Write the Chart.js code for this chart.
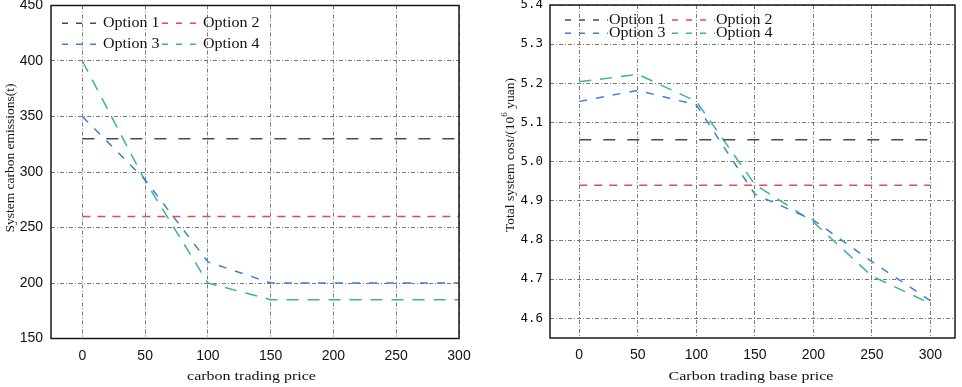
<!DOCTYPE html>
<html><head><meta charset="utf-8">
<script src="https://cdn.jsdelivr.net/npm/chart.js@4.4.1/dist/chart.umd.min.js"></script>
<style>
html,body{margin:0;padding:0;background:#fff;width:962px;height:387px;overflow:hidden}
canvas{position:absolute;top:0}
#c1{left:0}
#c2{left:480px}
</style></head><body>
<canvas id="c1" width="480" height="387"></canvas>
<canvas id="c2" width="482" height="387"></canvas>
<script>
// ---------- data ----------
const seriesNames = ['Option 1', 'Option 2', 'Option 3', 'Option 4'];
const xPrices = [0, 50, 100, 150, 200, 250, 300];
const priceTicksX = [0, 50, 100, 150, 200, 250, 300];

const emissionOpt1 = [330, 330, 330, 330, 330, 330, 330];
const emissionOpt2 = [260, 260, 260, 260, 260, 260, 260];
const emissionOpt3 = [350, 293, 219, 200, 200, 200, 200];
const emissionOpt4 = [400, 292, 200, 185, 185, 185, 185];
const emissionTicksY = [150, 200, 250, 300, 350, 400, 450];

const costOpt1 = [5.056, 5.056, 5.056, 5.056, 5.056, 5.056, 5.056];
const costOpt2 = [4.94, 4.94, 4.94, 4.94, 4.94, 4.94, 4.94];
const costOpt3 = [5.154, 5.182, 5.145, 4.917, 4.851, 4.745, 4.645];
const costOpt4 = [5.204, 5.223, 5.154, 4.942, 4.846, 4.708, 4.638];
const costTicksY = [4.6, 4.7, 4.8, 4.9, 5.0, 5.1, 5.2, 5.3, 5.4];

// ---------- styles ----------
const seriesColors = ['#4a4a4a', '#e8455e', '#3f7fd6', '#3db58e'];
const seriesDashes = [[12, 12], [8, 7], [8, 9], [12, 9]];
const SANS = "'Liberation Sans', Arial, sans-serif";
const SERIF = "'Liberation Serif', 'Times New Roman', serif";
const MONO = "'DejaVu Sans Mono', monospace";

function drawSquashed(ctx, text, x, y, font, sy, align) {
  ctx.save();
  ctx.font = font;
  ctx.textAlign = align || 'left';
  ctx.textBaseline = 'middle';
  ctx.fillStyle = '#111';
  ctx.translate(x, y);
  ctx.scale(1, sy);
  ctx.fillText(text, 0, 0);
  ctx.restore();
}

const decorPlugin = {
  id: 'chartDecor',
  afterDraw(chart, args, o) {
    const ctx = chart.ctx;
    const a = chart.chartArea;
    // frame
    ctx.save();
    ctx.strokeStyle = '#1a1a1a';
    ctx.lineWidth = 1.5;
    ctx.setLineDash([]);
    ctx.strokeRect(a.left, a.top, a.right - a.left, a.bottom - a.top);
    ctx.restore();
    // legend
    const L = o.legend;
    chart.data.datasets.forEach((ds, i) => {
      const col = i % 2, row = Math.floor(i / 2);
      const x0 = L.x0 + col * L.colStep;
      const y = L.rows[row];
      ctx.save();
      ctx.strokeStyle = ds.borderColor;
      ctx.lineWidth = 1.5;
      ctx.setLineDash([6, 8]);
      ctx.beginPath();
      ctx.moveTo(x0, y);
      ctx.lineTo(x0 + L.len, y);
      ctx.stroke();
      ctx.restore();
      drawSquashed(ctx, ds.label, x0 + L.len + 1, y + 0.5, '16px ' + SERIF, 0.85, 'left');
    });
    // x title
    const T = o.titles;
    drawSquashed(ctx, T.x.text, T.x.cx, T.x.cy, '16px ' + SERIF, 0.82, 'center');
    // y title (rotated, with optional superscript segments)
    ctx.save();
    ctx.translate(T.y.cx, T.y.cy);
    ctx.rotate(-Math.PI / 2);
    ctx.fillStyle = '#111';
    ctx.textBaseline = 'middle';
    ctx.textAlign = 'left';
    let total = 0;
    T.y.segs.forEach(s => { ctx.font = s.size + 'px ' + SERIF; s.w = ctx.measureText(s.t).width; total += s.w; });
    let x = -total / 2;
    T.y.segs.forEach(s => { ctx.font = s.size + 'px ' + SERIF; ctx.fillText(s.t, x, -(s.rise || 0)); x += s.w; });
    ctx.restore();
  }
};

function makeChart(id, cfg) {
  return new Chart(document.getElementById(id), {
    type: 'line',
    data: {
      datasets: cfg.series.map((vals, i) => ({
        label: seriesNames[i],
        data: xPrices.map((xv, j) => ({ x: xv, y: vals[j] })),
        borderColor: seriesColors[i],
        backgroundColor: seriesColors[i],
        borderWidth: 1.5,
        borderDash: seriesDashes[i],
        pointRadius: 0,
        fill: false,
        tension: 0
      }))
    },
    options: {
      responsive: false,
      animation: false,
      devicePixelRatio: 1,
      layout: { padding: { top: cfg.top, right: cfg.right, left: 0, bottom: 0 } },
      plugins: {
        legend: { display: false },
        tooltip: { enabled: false },
        chartDecor: { legend: cfg.legend, titles: cfg.titles }
      },
      scales: {
        x: {
          type: 'linear', min: cfg.xMin, max: cfg.xMax,
          afterBuildTicks: s => { s.ticks = priceTicksX.map(v => ({ value: v })); },
          afterFit: s => { s.height = cfg.xAxisH; s.paddingLeft = 0; s.paddingRight = 0; },
          ticks: { padding: 9, color: '#111', font: { family: SANS, size: 14 }, maxRotation: 0, autoSkip: false,
                   callback: v => String(v) },
          grid: { color: '#7a7a7a', lineWidth: 1, drawTicks: false },
          border: { display: false, dash: [4, 2, 1, 2] }
        },
        y: {
          type: 'linear', min: cfg.yMin, max: cfg.yMax,
          afterBuildTicks: s => { s.ticks = cfg.yTicks.map(v => ({ value: v })); },
          afterFit: s => { s.width = cfg.yAxisW; s.paddingTop = 0; s.paddingBottom = 0; },
          ticks: { padding: cfg.yPad, color: '#111', font: cfg.yFont, autoSkip: false,
                   callback: cfg.yFmt },
          grid: { color: '#7a7a7a', lineWidth: 1, drawTicks: false },
          border: { display: false, dash: [4, 2, 1, 2] }
        }
      }
    },
    plugins: [decorPlugin]
  });
}

makeChart('c1', {
  series: [emissionOpt1, emissionOpt2, emissionOpt3, emissionOpt4],
  top: 5.5, right: 21, xAxisH: 48.5, yAxisW: 51,
  xMin: -25, xMax: 300, yMin: 150, yMax: 450,
  yTicks: emissionTicksY, yPad: 8, yFont: { family: SANS, size: 14 }, yFmt: v => String(v),
  legend: { x0: 62, len: 40, colStep: 100, rows: [23.3, 44.3] },
  titles: {
    x: { text: 'carbon trading price', cx: 251.5, cy: 376.5 },
    y: { cx: 10, cy: 158, segs: [{ t: 'System carbon emissions(t)', size: 13.5 }] }
  }
});

makeChart('c2', {
  series: [costOpt1, costOpt2, costOpt3, costOpt4],
  top: 5, right: 7, xAxisH: 49, yAxisW: 70,
  xMin: -25, xMax: 321, yMin: 4.55, yMax: 5.4,
  yTicks: costTicksY, yPad: 7, yFont: { family: MONO, size: 12.5 }, yFmt: v => v.toFixed(1),
  legend: { x0: 85, len: 43, colStep: 107, rows: [20, 33.3] },
  titles: {
    x: { text: 'Carbon trading base price', cx: 271, cy: 377 },
    y: { cx: 30, cy: 155, segs: [
      { t: 'Total system cost/(10', size: 13.5 },
      { t: '6', size: 9, rise: 5 },
      { t: ' yuan)', size: 13.5 }
    ] }
  }
});
</script>
</body></html>
